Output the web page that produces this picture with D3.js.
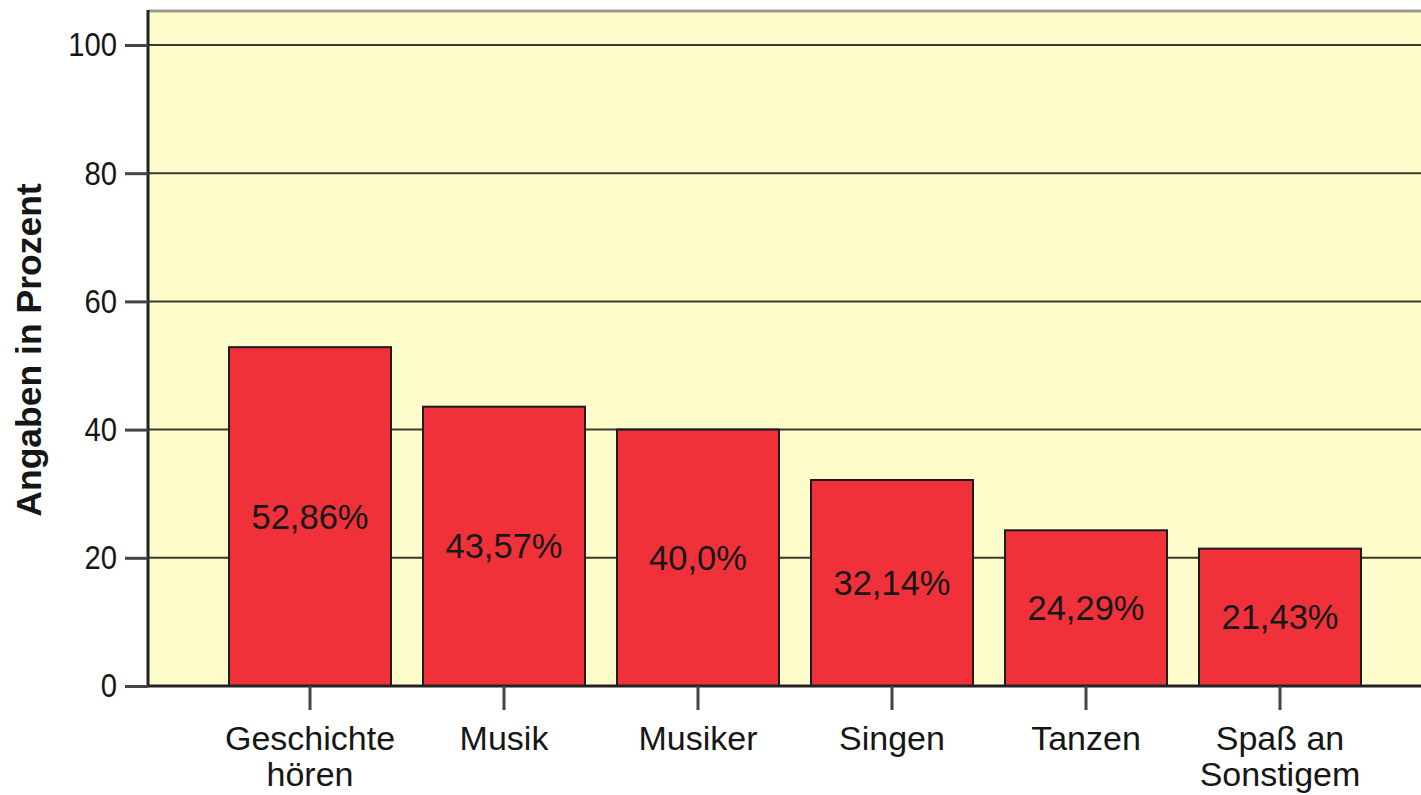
<!DOCTYPE html>
<html>
<head>
<meta charset="utf-8">
<script src="https://cdn.jsdelivr.net/npm/d3@7"></script>
<style>
    body { margin: 0; background: #ffffff; }
    text { font-family: Arial, "Liberation Sans", sans-serif; fill: #161616; }
</style>
</head>
<body>
<div id="drawing_region"></div>
<script>
const categories = [ ['Geschichte', 'hören'], ['Musik'], ['Musiker'], ['Singen'], ['Tanzen'], ['Spaß an', 'Sonstigem'] ];
const values = [ 52.86, 43.57, 40.0, 32.14, 24.29, 21.43 ];
const value_labels = [ '52,86%', '43,57%', '40,0%', '32,14%', '24,29%', '21,43%' ];
const y_ticks = [ 0, 20, 40, 60, 80, 100 ];
const y_title = 'Angaben in Prozent';

class BarChart {

    constructor( config, data ) {
        this.config = {
            parent: config.parent,
            width: config.width || 1421,
            height: config.height || 795,
            margin: config.margin
        }
        this.data = data;
        this.init();
    }

    init() {
        let self = this;

        self.svg = d3.select( self.config.parent )
            .append('svg')
            .attr('width', self.config.width)
            .attr('height', self.config.height);

        self.chart = self.svg.append('g')
            .attr('transform', `translate(${self.config.margin.left}, ${self.config.margin.top})`);

        // plot area runs past the right edge of the picture
        self.inner_width = 1294;
        self.inner_height = 675;

        self.xscale = d3.scaleBand()
            .range([65, 65 + 6 * 194])
            .paddingInner(32 / 194)
            .paddingOuter(16 / 194);
        self.yscale = d3.scaleLinear().range([self.inner_height, 0]);
    }

    update() {
        let self = this;
        self.xscale.domain( self.data.map( d => d.i ) );
        self.yscale.domain( [0, 105.3] );
        self.render();
    }

    render() {
        let self = this;

        self.chart.append('rect')
            .attr('width', self.inner_width)
            .attr('height', self.inner_height)
            .attr('fill', '#fefccb');

        // top border
        self.chart.append('line')
            .attr('x1', 0).attr('x2', self.inner_width)
            .attr('y1', 0).attr('y2', 0)
            .attr('stroke', '#9a9a94')
            .attr('stroke-width', 3);

        // grid lines
        self.chart.selectAll('.grid')
            .data( y_ticks.filter( t => t > 0 ) )
            .join('line')
            .attr('x1', 0).attr('x2', self.inner_width)
            .attr('y1', d => self.yscale(d)).attr('y2', d => self.yscale(d))
            .attr('stroke', '#3a3a30')
            .attr('stroke-width', 2);

        self.chart.selectAll('.bar')
            .data( self.data )
            .join('rect')
            .attr('x', d => self.xscale(d.i))
            .attr('y', d => self.yscale(d.value))
            .attr('width', self.xscale.bandwidth())
            .attr('height', d => self.inner_height - self.yscale(d.value))
            .attr('fill', '#f0313a')
            .attr('stroke', '#1c1c1c')
            .attr('stroke-width', 2);

        self.chart.selectAll('.value')
            .data( self.data )
            .join('text')
            .attr('x', d => self.xscale(d.i) + self.xscale.bandwidth() / 2)
            .attr('y', d => (self.yscale(d.value) + self.inner_height) / 2)
            .attr('text-anchor', 'middle')
            .attr('dominant-baseline', 'central')
            .style('font-size', '34.5px')
            .text( d => d.label );

        // y axis
        const yaxis = d3.axisLeft( self.yscale )
            .tickValues( y_ticks )
            .tickSize( 23 )
            .tickPadding( 8 );
        const yg = self.chart.append('g').call( yaxis );
        yg.select('.domain')
            .attr('d', `M0,${self.inner_height}V-1`)
            .attr('stroke', '#222')
            .attr('stroke-width', 3);
        yg.selectAll('.tick line').attr('stroke', '#444').attr('stroke-width', 3);
        // narrow digits, like the original
        yg.selectAll('.tick text')
            .style('font-size', '34px')
            .style('font-family', 'Arial, "Liberation Sans", sans-serif')
            .attr('fill', '#161616')
            .attr('x', null)
            .attr('transform', 'translate(-31,0) scale(0.86,1)');

        // x axis
        const xaxis = d3.axisBottom( self.xscale )
            .tickSize( 24 )
            .tickFormat( '' );
        const xg = self.chart.append('g')
            .attr('transform', `translate(0, ${self.inner_height})`)
            .call( xaxis );
        xg.select('.domain')
            .attr('d', `M0,0H${self.inner_width}`)
            .attr('stroke', '#222')
            .attr('stroke-width', 3);
        xg.selectAll('.tick line').attr('stroke', '#444').attr('stroke-width', 3);

        self.chart.selectAll('.cat')
            .data( self.data )
            .join('text')
            .attr('x', d => self.xscale(d.i) + self.xscale.bandwidth() / 2)
            .attr('y', self.inner_height + 64)
            .attr('text-anchor', 'middle')
            .style('font-size', '34px')
            .selectAll('tspan')
            .data( d => d.cat )
            .join('tspan')
            .attr('x', function() { return d3.select(this.parentNode).attr('x'); })
            .attr('dy', (d, i) => i === 0 ? 0 : 36)
            .text( d => d );

        self.svg.append('text')
            .attr('transform', `translate(41, ${self.config.margin.top + 339}) rotate(-90)`)
            .attr('text-anchor', 'middle')
            .style('font-size', '35.5px')
            .style('font-weight', 'bold')
            .text( y_title );
    }
}

const data = values.map( (v, i) => ({ i: i, value: v, label: value_labels[i], cat: categories[i] }) );

const bar_chart = new BarChart( { parent: '#drawing_region', width: 1421, height: 795,
    margin: {top: 11, right: 0, bottom: 109, left: 148} }, data );
bar_chart.update();
</script>
</body>
</html>
